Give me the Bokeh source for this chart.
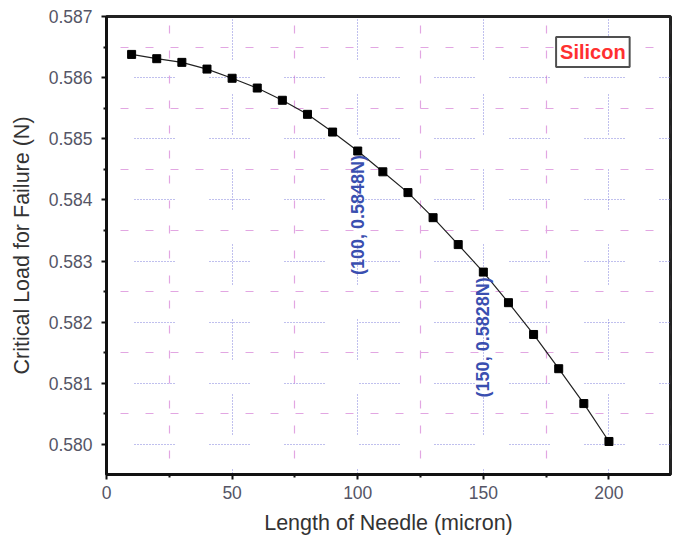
from bokeh.plotting import figure
from bokeh.models import FixedTicker, Label, Range1d, ColumnDataSource, NumeralTickFormatter
from bokeh.embed import file_html
from bokeh.resources import INLINE
from bokeh.core.properties import value

# Data
needle_length = [10, 20, 30, 40, 50, 60, 70, 80, 90, 100,
                 110, 120, 130, 140, 150, 160, 170, 180, 190, 200]
critical_load = [0.58638, 0.58631, 0.58625, 0.58614, 0.58599, 0.58583, 0.58563, 0.58540, 0.58511, 0.58480,
                 0.58446, 0.58412, 0.58371, 0.58327, 0.58282, 0.58232, 0.58180, 0.58124, 0.58067, 0.58005]
annot_x = [100, 150]
annot_y = [0.5848, 0.5828]
annot_text = ["(100, 0.5848N)", "(150, 0.5828N)"]
x_ticks = [0, 50, 100, 150, 200]
x_minor = [25, 75, 125, 175, 225]
y_ticks = [0.580, 0.581, 0.582, 0.583, 0.584, 0.585, 0.586, 0.587]
y_minor = [0.5795, 0.5805, 0.5815, 0.5825, 0.5835, 0.5845, 0.5855, 0.5865]
material = "Silicon"

FONT = "Liberation Sans"

p = figure(width=680, height=540, output_backend="svg", toolbar_location=None,
           x_range=Range1d(0, 224.5), y_range=Range1d(0.57951, 0.587),
           min_border_left=106, min_border_right=10, min_border_top=16, min_border_bottom=66)

p.outline_line_color = "#222222"
p.outline_line_width = 3

# Axes
p.xaxis.ticker = FixedTicker(ticks=x_ticks, minor_ticks=x_minor)
p.yaxis.ticker = FixedTicker(ticks=y_ticks, minor_ticks=y_minor)
p.yaxis.formatter = NumeralTickFormatter(format="0.000")

for ax in (p.xaxis[0], p.yaxis[0]):
    ax.axis_line_width = 3
    ax.axis_line_color = "#111111"
    ax.major_tick_line_width = 2
    ax.major_tick_line_color = "#111111"
    ax.minor_tick_line_width = 2
    ax.minor_tick_line_color = "#111111"
    ax.major_tick_in = 0
    ax.major_tick_out = 5
    ax.minor_tick_in = 0
    ax.minor_tick_out = 3
    ax.major_label_text_font = FONT
    ax.major_label_text_font_size = "17.5px"
    ax.major_label_text_color = "#555566"
    ax.axis_label_text_font = FONT
    ax.axis_label_text_font_size = "21.5px"
    ax.axis_label_text_font_style = "normal"
    ax.axis_label_text_color = "#333333"

p.xaxis.axis_label = "Length of Needle (micron)"
p.yaxis.axis_label = "Critical Load for Failure (N)"
p.xaxis.major_label_standoff = 6
p.xaxis.axis_label_standoff = 9
p.yaxis.major_label_standoff = 9
p.yaxis.axis_label_standoff = 12

# Grids: segmented dotted major grid, dashed pink minor grid
dots = " ".join(["1 2"] * 14)
major_dash = dots[:-1] + "35"
minor_dash = "8 17"
for g in (p.xgrid[0], p.ygrid[0]):
    g.grid_line_color = "#8080dd"
    g.grid_line_dash = major_dash
    g.grid_line_width = 1
    g.minor_grid_line_color = "#e2a6e2"
    g.minor_grid_line_dash = minor_dash
    g.minor_grid_line_width = 1.2
p.ygrid[0].grid_line_dash_offset = 47
p.ygrid[0].minor_grid_line_dash_offset = 11
p.xgrid[0].grid_line_dash_offset = 35
p.xgrid[0].minor_grid_line_dash_offset = 9

src = ColumnDataSource(dict(x=needle_length, y=critical_load))
p.line("x", "y", source=src, line_color="#222222", line_width=1.2)
p.scatter("x", "y", source=src, marker="square", size=8, fill_color="black", line_color="black")

asrc = ColumnDataSource(dict(x=annot_x, y=annot_y, t=annot_text))
p.text("x", "y", text="t", source=asrc, angle=1.5708, text_align="right", text_baseline="middle",
       y_offset=4, text_font=value(FONT), text_font_size="18px", text_font_style="bold",
       text_color="#3a4fb0")

lbl = Label(x=193.6, y=0.58642, text=material, text_align="center", text_baseline="middle",
            text_font=FONT, text_font_size="20px", text_font_style="bold", text_color="#ff3030",
            border_line_color="#505050", border_line_width=2, background_fill_color="white",
            padding=4)
p.add_layout(lbl)

open("out.html", "w").write(file_html(p, INLINE))
